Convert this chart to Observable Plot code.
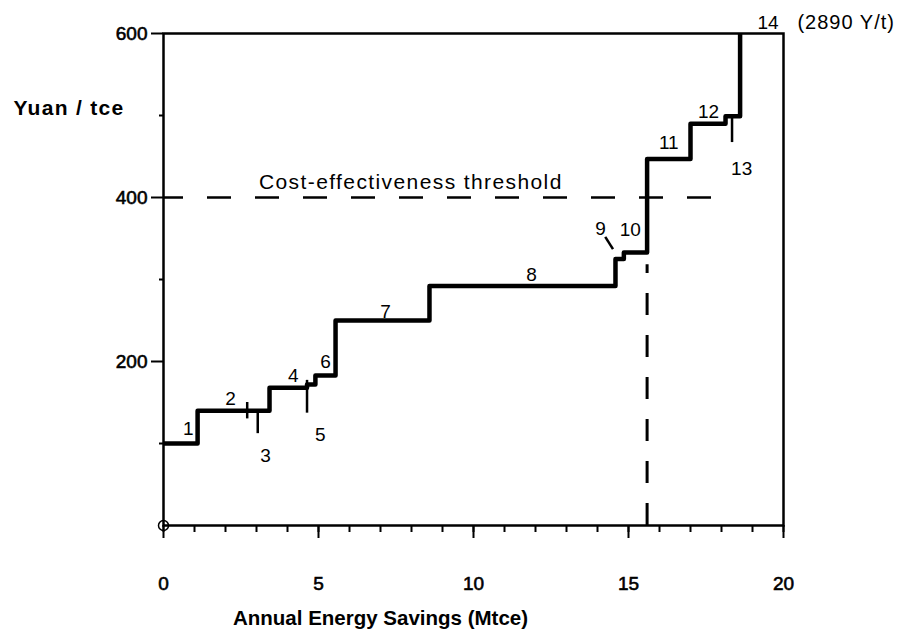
<!DOCTYPE html>
<html><head><meta charset="utf-8">
<script src="https://cdn.jsdelivr.net/npm/d3@7"></script>
<script src="https://cdn.jsdelivr.net/npm/@observablehq/plot@0.6"></script>
<style>
body{margin:0;background:#fff}
svg{font-family:"Liberation Sans",Arial,Helvetica,sans-serif}
</style>
</head><body><div id="chart"></div>
<script>
// Conservation supply curve: cumulative savings (Mtce) at start of each measure, cost (Yuan/tce)
const measureIds  = ["1","2","3","4","5","6","7","8","9","10","11","12","13","14"];
const stepStart   = [0, 1.1, 2.7, 3.42, 4.63, 4.9, 5.55, 8.58, 14.58, 14.85, 15.6, 17.0, 18.13, 18.6];
const stepCost    = [100, 140, 140, 168, 172, 183, 250, 292, 325, 333, 447, 490, 499, 2890];
// label anchor positions (data units)
const labelX = [0.8, 2.16, 3.29, 4.19, 5.06, 5.23, 7.16, 11.87, 14.1, 15.06, 16.3, 17.58, 18.65, 19.5];
const labelY = [118, 154, 85, 183, 110, 199, 261, 305, 362, 360, 466, 504, 435, 613];
// small separator marks on the curve
const markX      = [2.7, 3.04, 4.63, 18.34];
const markTop    = [150, 140, 177, 497];
const markBottom = [130, 112, 137, 467];
const threshold = 400;
const thresholdEnd = 18.1;
const cutoffX = 15.6;
const cutoffTop = 318;
const xMajor = [0, 5, 10, 15, 20];
const xMinor = d3.range(0, 21, 1);
const yMajor = [200, 400, 600];
const yMinor = [100, 300, 500];

const steps = stepStart.map((x, i) => ({x, y: stepCost[i]}));
const labels = measureIds.map((t, i) => ({t, x: labelX[i], y: labelY[i]}));
const marks = markX.map((x, i) => ({x, y1: markBottom[i], y2: markTop[i]}));

const chart = Plot.plot({
  width: 903, height: 633,
  marginLeft: 163, marginRight: 120, marginTop: 33, marginBottom: 108,
  style: {background: "#fff", color: "#000", fontFamily: '"Liberation Sans",Arial,sans-serif'},
  x: {domain: [0, 20], label: null},
  y: {domain: [0, 600], label: null},
  marks: [
    Plot.axisX(xMinor, {tickSize: 7, tickFormat: () => "", strokeWidth: 2}),
    Plot.axisX(xMajor, {tickSize: 13, tickPadding: 38, fontSize: 19, strokeWidth: 2, tickFormat: d => String(d)}),
    Plot.axisY(yMinor, {tickSize: 4, tickFormat: () => "", strokeWidth: 2}),
    Plot.axisY(yMajor, {tickSize: 12, tickPadding: 4, fontSize: 19, strokeWidth: 2, tickFormat: d => String(d)}),
    Plot.frame({strokeWidth: 2.5}),
    Plot.ruleY([threshold], {x1: 0, x2: thresholdEnd, strokeWidth: 2.5, strokeDasharray: "24,24", strokeDashoffset: 4}),
    Plot.ruleX([cutoffX], {y1: 0, y2: cutoffTop, strokeWidth: 3, strokeDasharray: "22,20"}),
    Plot.line(steps, {x: "x", y: "y", curve: "step-after", strokeWidth: 4.5, clip: true}),
    Plot.ruleX(marks, {x: "x", y1: "y1", y2: "y2", strokeWidth: 2.5}),
    Plot.link([{x1: 14.25, y1: 352, x2: 14.5, y2: 337}], {x1: "x1", y1: "y1", x2: "x2", y2: "y2", strokeWidth: 2.5}),
    Plot.dot([{x: 0, y: 0}], {x: "x", y: "y", r: 5, stroke: "#000", strokeWidth: 1.5, fill: "none"}),
    Plot.text(labels, {x: "x", y: "y", text: "t", fontSize: 19, fill: "#000"}),
    Plot.text(["(2890 Y/t)"], {x: 20.45, y: 613, textAnchor: "start", fontSize: 20, fill: "#000"}),
    Plot.text(["Cost-effectiveness threshold"], {x: 3.08, y: 418, textAnchor: "start", fontSize: 21, fill: "#000"}),
    Plot.text(["Yuan / tce"], {x: -4.84, y: 508.5, textAnchor: "start", fontSize: 21, fontWeight: "bold", fill: "#000"}),
    Plot.text(["Annual Energy Savings (Mtce)"], {x: 7.0, y: -113.4, fontSize: 20.5, fontWeight: "bold", fill: "#000"})
  ]
});

const spacing = {"(2890 Y/t)": "1px", "Cost-effectiveness threshold": "1.4px", "Yuan / tce": "1.3px"};
chart.querySelectorAll("text").forEach(t => {
  const s = spacing[t.textContent];
  if (s) t.style.letterSpacing = s;
});
chart.querySelectorAll('g[aria-label$="tick label"] text').forEach(t => {
  t.style.stroke = "#000";
  t.style.strokeWidth = "0.6px";
});
document.getElementById("chart").appendChild(chart);
</script>
</body></html>
